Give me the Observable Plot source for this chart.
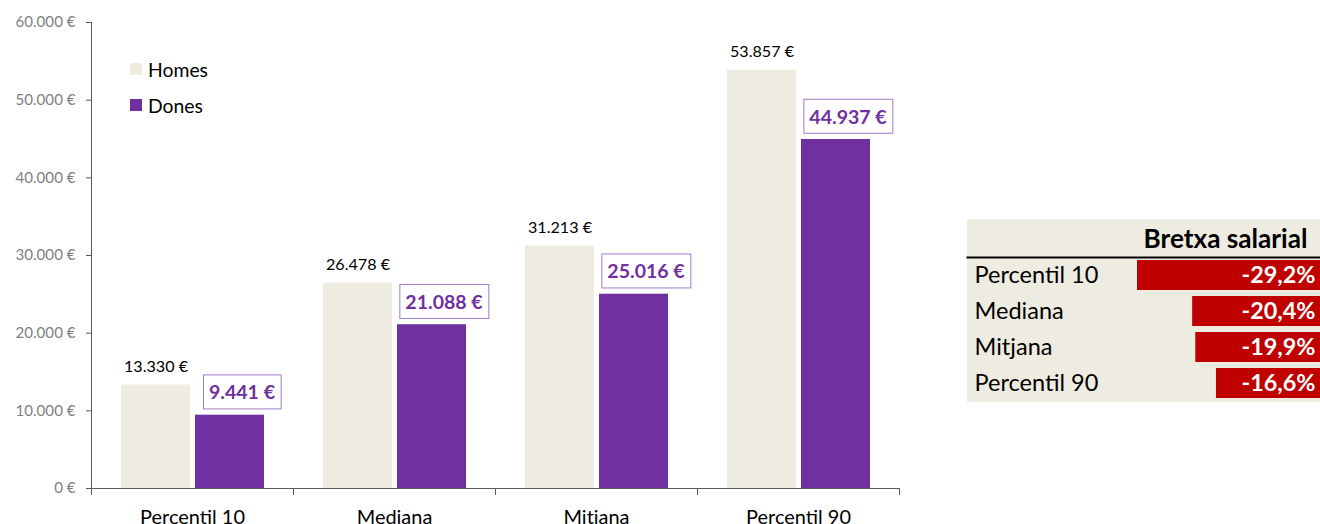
<!DOCTYPE html>
<html><head><meta charset="utf-8">
<script src="https://cdn.jsdelivr.net/npm/d3@7"></script>
<script src="https://cdn.jsdelivr.net/npm/@observablehq/plot@0.6"></script>
<style>
body{margin:0;background:#fff;}
#wrap{position:relative;width:1320px;height:524px;overflow:hidden;font-family:Lato,sans-serif;}
.leg{position:absolute;left:130px;display:flex;align-items:center;height:12px;white-space:nowrap;color:#000;}
.leg span.sw{display:inline-block;width:12px;height:12px;margin-right:6px;}
#table{position:absolute;left:967px;top:219px;}
#chart{position:absolute;left:0;top:0;}
</style></head><body><div id="wrap"><div id="chart"></div><div id="table"></div></div>
<script>
// ---- data ----
const categories = ["Percentil 10", "Mediana", "Mitjana", "Percentil 90"];
const series = ["Homes", "Dones"];
const homes = [13330, 26478, 31213, 53857];
const dones = [9441, 21088, 25016, 44937];
const gapTitle = "Bretxa salarial";
const gaps = [-29.2, -20.4, -19.9, -16.6];
const yTicks = [0, 10000, 20000, 30000, 40000, 50000, 60000];
const seriesColors = ["#EEECE1", "#7030A0"];

// ---- helpers ----
const FONT = "Lato, sans-serif";
const ctx = document.createElement("canvas").getContext("2d");
function fit(text, w, weight = "normal") {
  ctx.font = `${weight} 100px Lato`;
  return 100 * w / ctx.measureText(text).width;
}
const loc = d3.formatLocale({decimal: ",", thousands: ".", grouping: [3], currency: ["", ""], minus: "-"});
const euro = v => loc.format(",.0f")(v) + "\u00a0€";
const pct = v => loc.format(".1f")(v) + "%";

const fsX = fit("Percentil 10", 105);
const fsY = fit(euro(60000), 60);
const fsH = fit(euro(13330), 64);
const fsD = fit(euro(9441), 66, "bold");
const fsLeg = fit("Homes", 60);
const fsRow = fit("Percentil 10", 124);
const fsHead = fit(gapTitle, 164, "bold");
const fsVal = fit("-29,2%", 74, "bold");

const data = categories.flatMap((c, i) => [
  {cat: c, s: series[0], v: homes[i]},
  {cat: c, s: series[1], v: dones[i]}
]);

const W = 1320, H = 524, mt = 22, mb = 36;
const plotH = H - mt - mb;
const axisColor = "#595959";
const donesColor = seriesColors[1];

const chart = Plot.plot({
  width: W, height: H,
  marginLeft: 89, marginRight: 420, marginTop: mt, marginBottom: mb,
  style: {fontFamily: FONT, background: "transparent", overflow: "visible"},
  fx: {domain: categories, padding: 0},
  x: {domain: series, paddingInner: 0.0716, paddingOuter: 0.385, axis: null},
  y: {domain: [0, 60000], axis: null},
  color: {domain: series, range: seriesColors},
  marks: [
    Plot.barY(data, {fx: "cat", x: "s", y: "v", fill: "s"}),
    Plot.ruleY([0], {stroke: axisColor}),
    Plot.frame({anchor: "left", facetAnchor: "left", insetBottom: -6, stroke: axisColor}),
    Plot.frame({anchor: "left", insetTop: plotH, insetBottom: -6, stroke: axisColor}),
    Plot.frame({anchor: "right", facetAnchor: "right", insetTop: plotH, insetBottom: -6, stroke: axisColor}),
    Plot.axisY({ticks: yTicks, tickFormat: euro, tickSize: 5, tickPadding: 11, fontSize: fsY, fill: "#7F7F7F", stroke: axisColor, label: null}),
    Plot.axisFx({anchor: "bottom", tickSize: 0, tickPadding: 21, fontSize: fsX, fill: "#000", label: null}),
    Plot.text(data.filter(d => d.s === series[0]), {fx: "cat", x: "s", y: "v", text: d => euro(d.v), dy: -18, fontSize: fsH, fill: "#000"}),
    Plot.text(data.filter(d => d.s === series[1]), {fx: "cat", x: "s", y: "v", text: d => euro(d.v), dx: 12, dy: -22, fontSize: fsD, fontWeight: "bold", fill: donesColor})
  ]
});
document.getElementById("chart").appendChild(chart);

// boxes around the women's labels
const svgns = "http://www.w3.org/2000/svg";
chart.querySelectorAll("g").forEach(g => {
  if ((g.getAttribute("fill") || "").toLowerCase() !== donesColor.toLowerCase()) return;
  g.querySelectorAll(":scope > text").forEach(t => {
    const b = t.getBBox();
    const r = document.createElementNS(svgns, "rect");
    const cy = b.y + b.height / 2;
    r.setAttribute("x", b.x - 5.5);
    r.setAttribute("width", b.width + 11);
    r.setAttribute("y", cy - 17);
    r.setAttribute("height", 34);
    r.setAttribute("fill", "#fff");
    r.setAttribute("stroke", "#A27BCB");
    r.setAttribute("stroke-width", 1);
    if (t.getAttribute("transform")) r.setAttribute("transform", t.getAttribute("transform"));
    t.parentNode.insertBefore(r, t);
  });
});

// legend
const wrap = document.getElementById("wrap");
series.forEach((s, i) => {
  const d = document.createElement("div");
  d.className = "leg";
  d.style.top = (63 + i * 36) + "px";
  d.style.fontSize = fsLeg + "px";
  d.innerHTML = `<span class="sw" style="background:${seriesColors[i]}"></span><span>${s}</span>`;
  wrap.appendChild(d);
});

// gap table
const rows = categories.map((c, i) => ({cat: c, gap: gaps[i]}));
const table = Plot.plot({
  width: 353, height: 183,
  marginLeft: 0, marginRight: 0, marginBottom: 0, marginTop: 38,
  style: {fontFamily: FONT, background: "#EEECE1", overflow: "visible"},
  x: {domain: [d3.min(gaps), 0], range: [170, 353], axis: null},
  y: {domain: categories, range: [35, 185], padding: 1 / 6, axis: null},
  marks: [
    Plot.barX(rows, {y: "cat", x1: 0, x2: "gap", fill: "#C00000"}),
    Plot.frame({anchor: "top", stroke: "#000", strokeWidth: 2}),
    Plot.text([gapTitle], {frameAnchor: "top-right", lineAnchor: "bottom", dx: -13, dy: -10, fontSize: fsHead, fontWeight: "bold", fill: "#000"}),
    Plot.text(rows, {y: "cat", frameAnchor: "left", text: "cat", textAnchor: "start", dx: 7, fontSize: fsRow, fill: "#000"}),
    Plot.text(rows, {y: "cat", x: 0, text: d => pct(d.gap), textAnchor: "end", dx: -5, fontSize: fsVal, fontWeight: "bold", fill: "#fff"})
  ]
});
document.getElementById("table").appendChild(table);
</script></body></html>
